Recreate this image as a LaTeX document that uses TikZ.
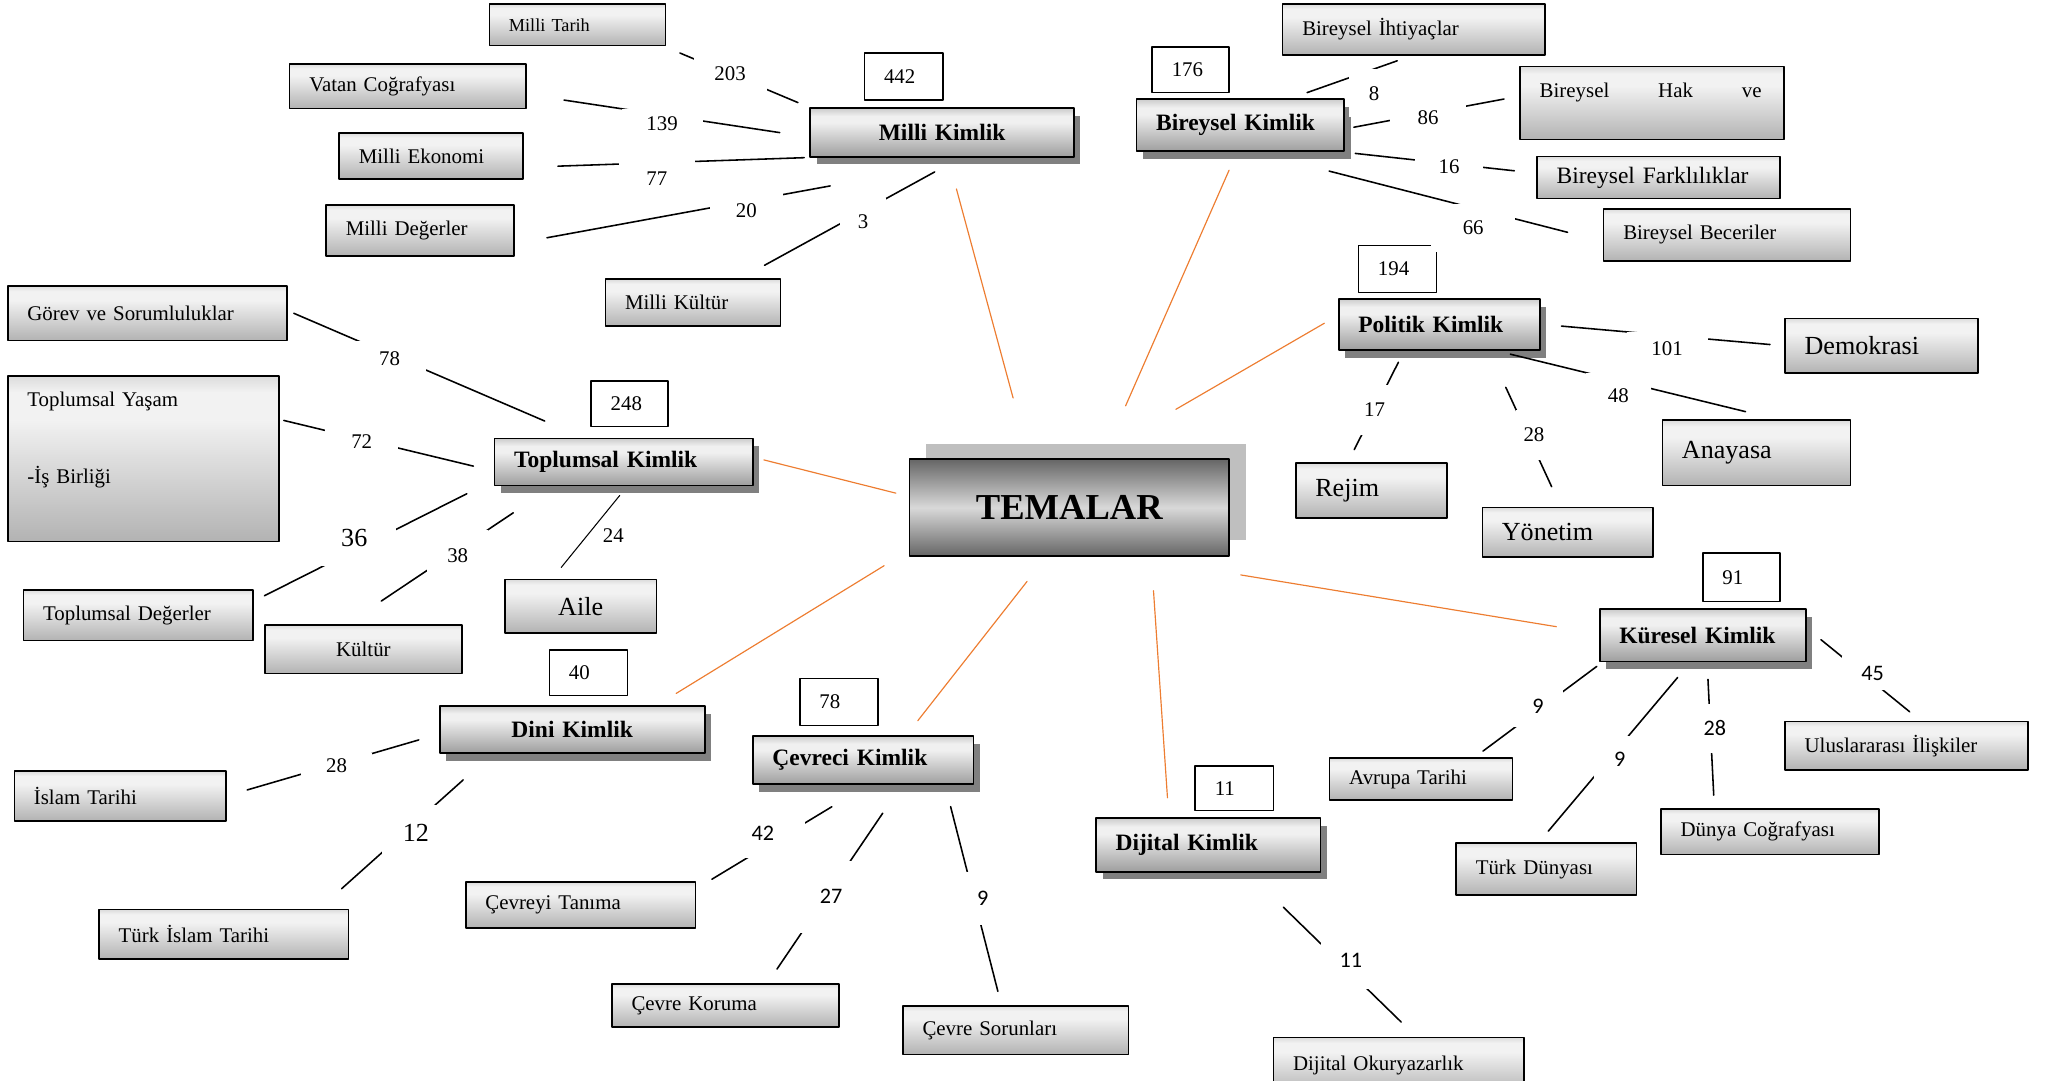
\documentclass[tikz,border=0pt]{standalone}
\usepackage{fontspec}
\setmainfont{Liberation Serif}
\newfontfamily\calfont{Carlito}
\usepackage{tikz}
\usetikzlibrary{shadows}
\definecolor{edxdtr}{rgb}{0.929,0.49,0.192}
\definecolor{dbdbdb}{rgb}{0.86,0.86,0.86}
\definecolor{fsfsfs}{rgb}{0.95,0.95,0.95}
\definecolor{btbtbt}{rgb}{0.7,0.7,0.7}
\definecolor{cccccc}{rgb}{0.8,0.8,0.8}
\definecolor{fqfqfq}{rgb}{0.94,0.94,0.94}
\definecolor{zezeze}{rgb}{0.62,0.62,0.62}
\definecolor{wwwwww}{rgb}{0.4,0.4,0.4}
\definecolor{dzdzdz}{rgb}{0.85,0.85,0.85}
\definecolor{yqyqyq}{rgb}{0.5,0.5,0.5}
\definecolor{bfbfbf}{rgb}{0.75,0.75,0.75}
\pgfdeclareverticalshading{leafshade}{100bp}{color(0bp)=(btbtbt); color(25bp)=(btbtbt); color(62bp)=(fsfsfs); color(70bp)=(fsfsfs); color(75bp)=(dbdbdb); color(100bp)=(dbdbdb)}
\pgfdeclareverticalshading{themeshade}{100bp}{color(0bp)=(zezeze); color(25bp)=(zezeze); color(60bp)=(fqfqfq); color(67bp)=(fqfqfq); color(75bp)=(cccccc); color(100bp)=(cccccc)}
\pgfdeclareverticalshading{rootshade}{100bp}{color(0bp)=(wwwwww); color(25bp)=(wwwwww); color(50bp)=(dzdzdz); color(75bp)=(wwwwww); color(100bp)=(wwwwww)}

\begin{document}
\begin{tikzpicture}[line cap=round,line join=round,x=1pt,y=-1pt,
		leafbox/.style={draw,line width=1.2pt,shading=leafshade,inner xsep=15pt,inner ysep=0pt,align=left,font=\fontsize{16}{19}\selectfont},
		bigleaf/.style={leafbox,font=\fontsize{20}{24}\selectfont},
		themebox/.style={draw,line width=1.4pt,shading=themeshade,inner xsep=15pt,inner ysep=0pt,align=left,font=\fontsize{18}{21}\selectfont\bfseries,drop shadow={shadow xshift=5pt,shadow yshift=-6pt,fill=yqyqyq,opacity=1}},
		rootbox/.style={draw,line width=1.4pt,shading=rootshade,minimum width=245pt,minimum height=74pt,font=\fontsize{28}{32}\selectfont\bfseries,general shadow={shadow xshift=13pt,shadow yshift=12pt,fill=bfbfbf}},
		countbox/.style={draw,fill=white,line width=1.2pt,inner xsep=15pt,inner ysep=0pt,align=left,font=\fontsize{16}{19}\selectfont},
		numlab/.style={fill=white,inner sep=0pt,font=\fontsize{16}{19}\selectfont},
		biglab/.style={numlab,font=\fontsize{20}{24}\selectfont},
		sanslab/.style={numlab,font=\fontsize{17}{20}\calfont},
		link/.style={line width=1.2pt},
		rootlink/.style={color=edxdtr,line width=0.9pt}]
		\useasboundingbox (0,0) rectangle (1568,828);
		\node[rootbox] (tm) at (819.5,389) {TEMALAR};
		\node[themebox,text width=172pt,align=center,minimum height=37pt] (mk) at (722,101.5) {Milli Kimlik};
		\node[countbox,text width=30pt,minimum height=36pt] (n442) at (692.5,58.5) {442};
		\node[leafbox,text width=105pt,minimum height=32pt,font=\fontsize{14}{17}\selectfont] (mt) at (442.5,19) {Milli Tarih};
		\node[leafbox,text width=151pt,minimum height=34pt] (vc) at (312.5,66) {Vatan Coğrafyası};
		\node[leafbox,text width=111pt,minimum height=35pt] (me) at (330.5,119.5) {Milli Ekonomi};
		\node[leafbox,text width=114pt,minimum height=39pt] (md) at (322,176.5) {Milli Değerler};
		\node[leafbox,text width=104pt,minimum height=36pt] (mkt) at (531,232) {Milli Kültür};
		\node[themebox,text width=129pt,minimum height=40pt] (bk) at (950.5,96) {Bireysel Kimlik};
		\node[countbox,text width=29pt,minimum height=35pt] (n176) at (912.5,53.5) {176};
		\node[leafbox,text width=171pt,minimum height=39pt] (bi) at (1083.5,22.5) {Bireysel İhtiyaçlar};
		\node[leafbox,text width=172pt,minimum height=56pt] (bh) at (1266,79) {\makebox[170pt][l]{Bireysel\hfill Hak\hfill ve}\\\mbox{}};
		\node[leafbox,text width=156pt,minimum height=32pt,font=\fontsize{18}{21}\selectfont] (bf) at (1271,136) {Bireysel Farklılıklar};
		\node[leafbox,text width=159pt,minimum height=40pt] (bb) at (1323.5,180) {Bireysel Beceriler};
		\node[themebox,text width=124pt,minimum height=39pt] (pk) at (1103,248.5) {Politik Kimlik};
		\node[countbox,text width=30pt,minimum height=36pt] (n194) at (1071,206) {194};
		\node[bigleaf,text width=118pt,minimum height=42pt] (dm) at (1442,265) {Demokrasi};
		\node[bigleaf,text width=114pt,minimum height=50pt] (an) at (1346,347) {Anayasa};
		\node[bigleaf,text width=86pt,minimum height=42pt] (rj) at (1051,376) {Rejim};
		\node[bigleaf,text width=101pt,minimum height=38pt] (yn) at (1201.5,408) {Yönetim};
		\node[themebox,text width=128pt,minimum height=40pt] (kk) at (1305,487) {Küresel Kimlik};
		\node[countbox,text width=29pt,minimum height=37pt] (n91) at (1334.5,442.5) {91};
		\node[leafbox,text width=156pt,minimum height=37pt] (ul) at (1461,571.5) {Uluslararası İlişkiler};
		\node[leafbox,text width=110pt,minimum height=32pt] (av) at (1089,597) {Avrupa Tarihi};
		\node[leafbox,text width=108pt,minimum height=40pt] (td) at (1185,666) {Türk Dünyası};
		\node[leafbox,text width=137pt,minimum height=35pt] (dc) at (1356.5,637.5) {Dünya Coğrafyası};
		\node[themebox,text width=142pt,minimum height=41pt] (dk) at (926,647.5) {Dijital Kimlik};
		\node[countbox,text width=30pt,minimum height=34pt] (n11) at (946,604) {11};
		\node[leafbox,text width=162pt,minimum height=43pt] (dok) at (1072,816.5) {Dijital Okuryazarlık};
		\node[themebox,text width=139pt,minimum height=37pt] (ck) at (661.5,582.5) {Çevreci Kimlik};
		\node[countbox,text width=30pt,minimum height=36pt] (n78) at (643,538) {78};
		\node[leafbox,text width=146pt,minimum height=35pt] (ct) at (445,693.5) {Çevreyi Tanıma};
		\node[leafbox,text width=144pt,minimum height=33pt] (ckr) at (556,770.5) {Çevre Koruma};
		\node[leafbox,text width=143pt,minimum height=37pt] (cs) at (778.5,789.5) {Çevre Sorunları};
		\node[themebox,text width=173pt,align=center,minimum height=36pt] (dnk) at (438.5,559) {Dini Kimlik};
		\node[countbox,text width=30pt,minimum height=35pt] (n40) at (451,515.5) {40};
		\node[leafbox,text width=132pt,minimum height=38pt] (it) at (92,610) {İslam Tarihi};
		\node[leafbox,text width=161pt,minimum height=38pt] (tit) at (171.5,716) {Türk İslam Tarihi};
		\node[themebox,text width=168pt,minimum height=36pt] (tk) at (478,354) {Toplumsal Kimlik};
		\node[countbox,text width=29pt,minimum height=35pt] (n248) at (482.5,309.5) {248};
		\node[leafbox,text width=184pt,minimum height=42pt] (gs) at (113,240) {Görev ve Sorumluluklar};
		\node[leafbox,text width=178pt,minimum height=127pt] (ty) at (110,351.5) {Toplumsal Yaşam\\[40pt]-İş Birliği\\[13pt]\mbox{}};
		\node[leafbox,text width=146pt,minimum height=39pt] (tdg) at (106,471.5) {Toplumsal Değerler};
		\node[leafbox,text width=121pt,align=center,minimum height=37pt] (ku) at (278.5,497.5) {Kültür};
		\node[bigleaf,text width=86pt,align=center,minimum height=41pt] (ai) at (445,464.5) {Aile};
		\draw[rootlink,shorten <=48pt,shorten >=25pt] (tm.129) -- (mk.-77);
		\draw[rootlink,shorten <=44pt,shorten >=15pt] (tm.56) -- (bk.-97);
		\draw[rootlink,shorten <=75pt,shorten >=12pt] (tm.66) -- (pk.175);
		\draw[rootlink,shorten <=86pt,shorten >=33pt] (tm.-39) -- (kk.179);
		\draw[rootlink,shorten <=26pt,shorten >=15pt] (tm.-31) -- (dk.145);
		\draw[rootlink,shorten <=24pt,shorten >=14pt] (tm.-115) -- (ck.30);
		\draw[rootlink,shorten <=22pt,shorten >=17pt] (tm.-165) -- (dnk.16);
		\draw[rootlink,shorten <=10pt,shorten >=8pt] (tm.176) -- (tk.2);
		\draw[link,shorten <=9.5pt,shorten >=13pt] (mk.north west) -- (mt.-14);
		\draw[link,shorten <=23pt,shorten >=29pt] (mk.182) -- (vc.-4);
		\draw[link,shorten <=4pt,shorten >=26pt] (mk.south west) -- (me.-7);
		\draw[link,shorten <=121pt,shorten >=25pt] (mk.-30) -- (md.-8);
		\draw[link,shorten <=23pt,shorten >=21pt] (mk.-53) -- (mkt.27);
		\draw[link,shorten <=13pt,shorten >=12pt] (bk.28) -- (bi.-94);
		\draw[link,shorten <=7pt,shorten >=12pt] (bk.-2) -- (bh.177);
		\draw[link,shorten <=8pt,shorten >=17pt] (bk.south east) -- (bf.178);
		\draw[link,shorten <=58pt,shorten >=28pt] (bk.-60) -- (bb.-177);
		\draw[link,shorten <=16pt,shorten >=11pt] (pk.east) -- (dm.west);
		\draw[link,shorten <=11.5pt,shorten >=25pt] (pk.-25) -- (an.58);
		\draw[link,shorten <=10pt,shorten >=11pt] (pk.-143) -- (rj.130);
		\draw[link,shorten <=31pt,shorten >=17pt] (pk.-28) -- (yn.105);
		\draw[link,shorten <=14pt,shorten >=11pt] (kk.4) -- (ul.60);
		\draw[link,shorten <=5pt,shorten >=8pt] (kk.-165) -- (av.22);
		\draw[link,shorten <=15pt,shorten >=11pt] (kk.-115) -- (td.105);
		\draw[link,shorten <=13pt,shorten >=10pt] (kk.-81) -- (dc.157);
		\draw[link,shorten <=38pt,shorten >=16pt] (dk.-35) -- (dok.59);
		\draw[link,shorten <=32pt,shorten >=14pt] (ck.-80) -- (ct.8);
		\draw[link,shorten <=26pt,shorten >=13pt] (ck.-33) -- (ckr.28);
		\draw[link,shorten <=17pt,shorten >=11pt] (ck.-17) -- (cs.120);
		\draw[link,shorten <=16pt,shorten >=16.5pt] (dnk.-178) -- (it.east);
		\draw[link,shorten <=30pt,shorten >=23pt] (dnk.-163) -- (tit.15);
		\draw[link,shorten <=32pt,shorten >=5pt] (tk.149) -- (gs.1);
		\draw[link,shorten <=16pt,shorten >=3pt] (tk.184) -- (ty.16);
		\draw[link,shorten <=23pt,shorten >=9pt] (tk.188) -- (tdg.7);
		\draw[link,shorten <=36.5pt,shorten >=32pt] (tk.-161) -- (ku.124);
		\draw[line width=0.8pt,shorten <=9pt,shorten >=11pt] (tk.-82) -- (ai.136);
		\node[numlab,minimum width=56pt,minimum height=33pt] (l203) at (559.5,56.2) {203};
		\node[numlab,minimum width=62pt,minimum height=22pt] (l139) at (507.4,94.5) {139};
		\node[numlab,minimum width=58pt,minimum height=30pt] (l77) at (503.4,136.7) {77};
		\node[numlab,minimum width=56pt,minimum height=27pt] (l20) at (572,161.5) {20};
		\node[numlab,minimum width=35pt,minimum height=37pt] (l3) at (661.5,170) {3};
		\node[numlab,minimum width=38pt,minimum height=37pt] (l8) at (1053,71.5) {8};
		\node[numlab,minimum width=58pt,minimum height=20pt] (l86) at (1094.5,90) {86};
		\node[numlab,minimum width=52pt,minimum height=20pt] (l16) at (1110.5,128) {16};
		\node[numlab,minimum width=64pt,minimum height=37pt] (l66) at (1129,174.5) {66};
		\node[numlab,minimum width=62pt,minimum height=25pt] (l101) at (1277.6,267) {101};
		\node[numlab,minimum width=50pt,minimum height=34pt] (l48) at (1240.3,303.2) {48};
		\node[numlab,minimum width=22pt,minimum height=39pt] (l17) at (1053.4,314.2) {17};
		\node[numlab,minimum width=27pt,minimum height=38pt] (l28p) at (1175.6,333.4) {28};
		\node[sanslab,minimum width=47pt,minimum height=26pt] (l45) at (1435.2,516) {45};
		\node[sanslab,minimum width=39pt,minimum height=31pt] (l9a) at (1178.6,541.6) {9};
		\node[sanslab,minimum width=40pt,minimum height=36pt] (l9b) at (1241.3,581.9) {9};
		\node[sanslab,minimum width=20pt,minimum height=37pt] (l28k) at (1314.2,558.2) {28};
		\node[sanslab,minimum width=46pt,minimum height=45pt] (l11) at (1035.2,735.7) {11};
		\node[sanslab,minimum width=65pt,minimum height=37pt] (l42) at (584.7,638.7) {42};
		\node[sanslab,minimum width=47pt,minimum height=55pt] (l27) at (636.9,687.2) {27};
		\node[sanslab,minimum width=26pt,minimum height=41pt] (l9c) at (753.1,688.5) {9};
		\node[numlab,minimum width=54pt,minimum height=20pt] (l28d) at (258,587) {28};
		\node[biglab,minimum width=52pt,minimum height=43pt] (l12) at (318.7,638.2) {12};
		\node[numlab,minimum width=55pt,minimum height=26pt] (l78) at (298.6,274.6) {78};
		\node[numlab,minimum width=56pt,minimum height=20pt] (l72) at (277.2,338.5) {72};
		\node[biglab,minimum width=64pt,minimum height=43pt] (l36) at (271.5,412.6) {36};
		\node[numlab,minimum width=47pt,minimum height=40pt] (l38) at (350.8,426.1) {38};
		\node[font=\fontsize{16}{19}\selectfont,inner sep=0pt] (l24) at (470.1,410.8) {24};
\end{tikzpicture}
\end{document}
